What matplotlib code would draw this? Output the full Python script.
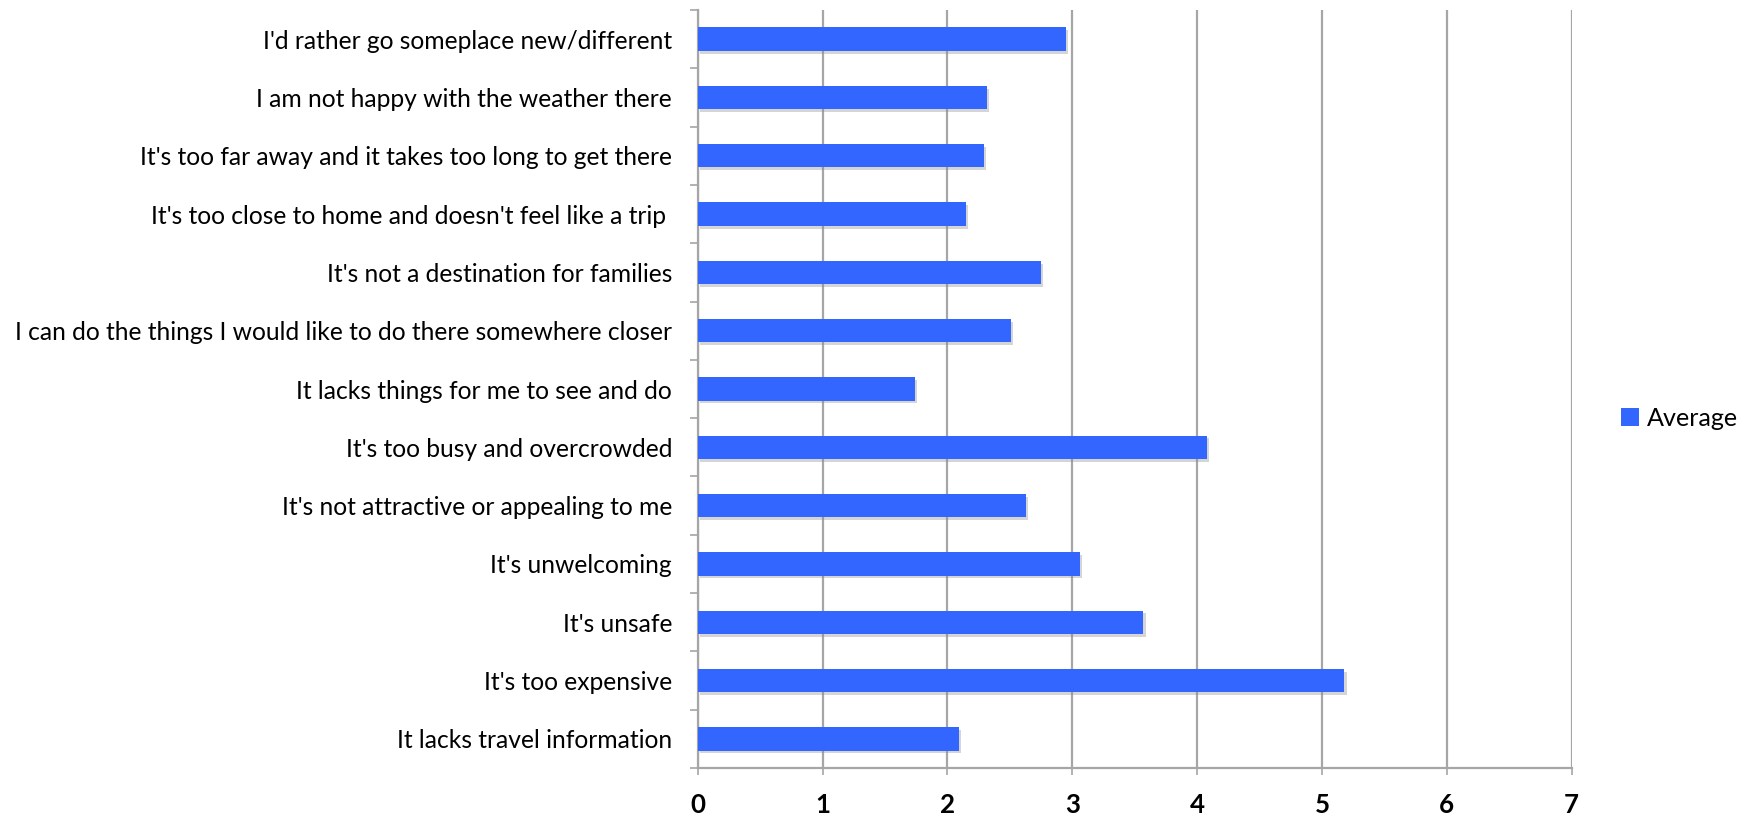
import matplotlib
matplotlib.use("Agg")
import matplotlib.pyplot as plt
import matplotlib.patheffects as pe
import numpy as np

categories = [
    "I'd rather go someplace new/different",
    "I am not happy with the weather there",
    "It's too far away and it takes too long to get there",
    "It's too close to home and doesn't feel like a trip ",
    "It's not a destination for families",
    "I can do the things I would like to do there somewhere closer",
    "It lacks things for me to see and do",
    "It's too busy and overcrowded",
    "It's not attractive or appealing to me",
    "It's unwelcoming",
    "It's unsafe",
    "It's too expensive",
    "It lacks travel information",
]
average = [2.95, 2.32, 2.29, 2.15, 2.75, 2.51, 1.74, 4.08, 2.63, 3.06, 3.57, 5.18, 2.09]
series_name = "Average"
x_ticks = [0, 1, 2, 3, 4, 5, 6, 7]

W, H = 1744, 822
DPI = 100
plt.rcParams['font.family'] = ['Lato', 'DejaVu Sans']
fig = plt.figure(figsize=(W / DPI, H / DPI), dpi=DPI)
ax = fig.add_axes([697.7 / W, 1 - 768 / H, (1571.7 - 697.7) / W, (768 - 10) / H])

BAR = '#3366ff'
GRID = '#a6a6a6'

n = len(categories)
y = np.arange(n)
bars = ax.barh(y, average, height=0.4, color=BAR, zorder=3)
for b in bars:
    b.set_path_effects([pe.SimplePatchShadow(offset=(1.5, -2), shadow_rgbFace='#888888', alpha=0.35), pe.Normal()])

ax.set_ylim(n - 0.5, -0.5)
ax.set_xlim(0, 7)
ax.set_xticks(x_ticks)
ax.set_xticklabels([str(t) for t in x_ticks])
ax.set_yticks(y)
ax.set_yticklabels(categories)
ax.set_yticks(np.arange(n + 1) - 0.5, minor=True)

ax.xaxis.grid(True, color=GRID, linewidth=1.6, zorder=0)
ax.set_axisbelow(True)
for s in ['top', 'right']:
    ax.spines[s].set_visible(False)
for s in ['left', 'bottom']:
    ax.spines[s].set_color(GRID)
    ax.spines[s].set_linewidth(1.6)

ax.tick_params(axis='y', which='major', length=0, pad=18.5)
ax.tick_params(axis='y', which='minor', length=6, width=1.2, color=GRID)
ax.tick_params(axis='x', which='major', length=5, width=1.2, color=GRID, pad=13)

# fit label font size to reference width (longest label ~661 px)
fs0 = 16
for lab in ax.get_yticklabels():
    lab.set_fontsize(fs0)
fig.canvas.draw()
r = fig.canvas.get_renderer()
widest = max(l.get_window_extent(r).width for l in ax.get_yticklabels())
fs = fs0 * 661.0 / widest
for lab in ax.get_yticklabels():
    lab.set_fontsize(fs)
    lab.set_color('black')
for lab in ax.get_xticklabels():
    lab.set_fontsize(fs * 1.05)
    lab.set_fontweight('bold')
    lab.set_color('black')

leg = fig.legend([bars[0]], [series_name], loc='center left',
                 bbox_to_anchor=(1621 / W, 1 - 418 / H), frameon=False,
                 fontsize=fs * 1.02, handlelength=0.72, handleheight=0.72,
                 handletextpad=0.3, borderpad=0, borderaxespad=0)
for h in leg.legend_handles:
    h.set_path_effects([])

fig.savefig('out.png', dpi=DPI, facecolor='white')
